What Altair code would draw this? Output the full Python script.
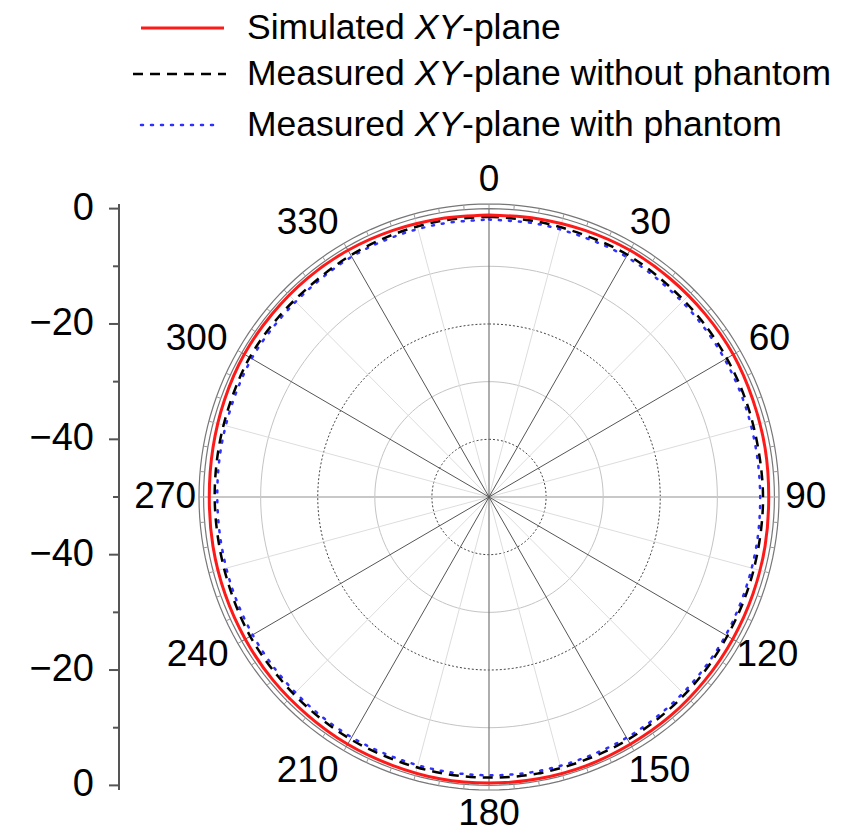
import altair as alt
import pandas as pd

# ---------------- data (dB) ----------------
ANGLES = list(range(0, 361, 10))
SIMULATED = [-1.1, -1.0, -0.8, -0.6, -0.6, -0.6, -0.6, -0.8, -0.9, -1.0,
             -0.9, -0.8, -0.7, -0.6, -0.5, -0.5, -0.4, -0.4, -0.4, -0.4,
             -0.5, -0.5, -0.6, -0.6, -0.7, -0.8, -0.9, -1.0, -0.9, -0.7,
             -0.5, -0.5, -0.5, -0.6, -0.8, -1.0, -1.1]
MEAS_WITHOUT = [-1.4, -1.5, -1.6, -1.5, -1.7, -1.8, -1.9, -2.0, -2.1, -2.0,
                -2.0, -1.9, -1.8, -1.6, -1.5, -1.4, -1.4, -1.3, -1.35, -1.4,
                -1.5, -1.5, -1.6, -1.7, -1.7, -1.9, -2.0, -1.95, -1.9, -1.8,
                -1.6, -1.7, -1.8, -1.6, -1.5, -1.4, -1.4]
MEAS_WITH = [-1.9, -1.9, -2.0, -1.9, -2.1, -2.2, -2.3, -2.4, -2.5, -2.5,
             -2.4, -2.3, -2.1, -2.0, -1.9, -1.8, -1.8, -1.7, -1.75, -1.8,
             -1.9, -1.9, -2.0, -2.1, -2.2, -2.3, -2.4, -2.4, -2.3, -2.2,
             -2.0, -2.1, -2.1, -1.9, -1.9, -1.9, -1.9]

ANGLE_TICKS = list(range(0, 360, 30))
RING_DB = [-40, -30, -20, -10, 0]
DB_MIN = -50
AXIS_VALUES = [-50, -40, -30, -20, -10, 0, 10, 20, 30, 40, 50]

LEGEND_START = ["Simulated", "Measured", "Measured"]
LEGEND_ITALIC = ["XY", "XY", "XY"]
LEGEND_END = ["-plane", "-plane without phantom", "-plane with phantom"]

# ---------------- layout ----------------
W, H = 580, 586
PAD_L, PAD_T = 191, 196
PAD_R = 852 - W - PAD_L
PAD_B = 823 - H - PAD_T
LIM = 50.8
FONT = "Liberation Sans"
PX_PER_X = W / (2 * LIM)
# horizontal nudge (px) of each angle label, as placed in the original figure
LABEL_DX = [0, 3, 6, 0, 4, 12, 0, -23, -17, -7, -18, -23]

XS = alt.Scale(domain=[-LIM, LIM], nice=False, zero=False)
YS = alt.Scale(domain=[-LIM, LIM], nice=False, zero=False)


def polar(chart, r_expr):
    return chart.transform_calculate(
        r=r_expr,
        px="datum.r * sin(datum.angle * PI / 180)",
        py="datum.r * cos(datum.angle * PI / 180)",
    )


def enc_xy(chart):
    return chart.encode(
        x=alt.X("px:Q", scale=XS, axis=None),
        y=alt.Y("py:Q", scale=YS, axis=None),
        order="angle:Q",
    )


# ---------------- grid circles ----------------
circ = pd.DataFrame([{"db": d, "angle": a} for d in RING_DB + [0.8] for a in range(0, 362, 2)])
circ_base = polar(alt.Chart(circ), f"datum.db - ({DB_MIN})")

dark_rings = enc_xy(circ_base.transform_filter("datum.db == -40 || datum.db == -20")
                    .mark_line(color="#444", strokeWidth=1, strokeDash=[2, 2])).encode(detail="db:N")
light_rings = enc_xy(circ_base.transform_filter("datum.db == -30 || datum.db == -10")
                     .mark_line(color="#c4c4c4", strokeWidth=1)).encode(detail="db:N")
outer_rings = enc_xy(circ_base.transform_filter("datum.db >= 0")
                     .mark_line(color="#777", strokeWidth=1.2)).encode(detail="db:N")

# ring ticks between 0 dB circle and border
rt = pd.DataFrame({"angle": list(range(0, 360, 5))})
ring_ticks = alt.Chart(rt).transform_calculate(
    x0="50 * sin(datum.angle * PI / 180)", y0="50 * cos(datum.angle * PI / 180)",
    x1=f"{LIM} * sin(datum.angle * PI / 180)", y1=f"{LIM} * cos(datum.angle * PI / 180)",
).mark_rule(color="#999", strokeWidth=1).encode(
    x=alt.X("x0:Q", scale=XS, axis=None), y=alt.Y("y0:Q", scale=YS, axis=None),
    x2="x1:Q", y2="y1:Q")

# ---------------- spokes ----------------
sp = pd.DataFrame({"angle": list(range(0, 360, 15))})
sp_base = alt.Chart(sp).transform_calculate(
    x0="0", y0="0",
    x1="50 * sin(datum.angle * PI / 180)", y1="50 * cos(datum.angle * PI / 180)",
)


def spokes(filt, color, width):
    return sp_base.transform_filter(filt).mark_rule(color=color, strokeWidth=width).encode(
        x=alt.X("x0:Q", scale=XS, axis=None), y=alt.Y("y0:Q", scale=YS, axis=None),
        x2="x1:Q", y2="y1:Q")


minor_spokes = spokes("datum.angle % 30 != 0", "#dddddd", 1)
major_spokes = spokes("datum.angle % 30 == 0 && datum.angle % 90 != 0", "#555", 1)
vert_spokes = spokes("datum.angle == 0 || datum.angle == 180", "#777", 1.2)
horiz_spokes = spokes("datum.angle == 90 || datum.angle == 270", "#c8c8c8", 2)

# ---------------- angle labels ----------------
al = pd.DataFrame({"angle": ANGLE_TICKS, "dx": LABEL_DX})
angle_labels = alt.Chart(al).transform_calculate(
    a="datum.angle * PI / 180",
).transform_calculate(
    px=f"55.5 * sin(datum.a) + datum.dx / {PX_PER_X}",
    py="54.9 * cos(datum.a)",
).mark_text(
    font=FONT, fontSize=37, color="black", align="center", baseline="middle"
).encode(
    x=alt.X("px:Q", scale=XS, axis=None), y=alt.Y("py:Q", scale=YS, axis=None),
    text="angle:Q")

# ---------------- left radial axis (mirrored dB scale) ----------------
AX_X = -80
ax_df = pd.DataFrame({"v": AXIS_VALUES})
ax_base = alt.Chart(ax_df).transform_calculate(
    major="abs(datum.v) % 20 == 10",
    label="format(abs(datum.v) - 50, 'd')",
)
axis_line = alt.Chart(pd.DataFrame({"lo": [-LIM], "hi": [LIM]})).mark_rule(
    color="#555", strokeWidth=2).encode(
    x=alt.value(AX_X), y=alt.Y("lo:Q", scale=YS, axis=None), y2="hi:Q")
major_ticks = ax_base.transform_filter("datum.major").mark_rule(
    color="#555", strokeWidth=2).encode(
    x=alt.value(AX_X - 10), x2=alt.value(AX_X), y=alt.Y("v:Q", scale=YS, axis=None))
minor_ticks = ax_base.transform_filter("!datum.major").mark_rule(
    color="#555", strokeWidth=2).encode(
    x=alt.value(AX_X - 6), x2=alt.value(AX_X), y=alt.Y("v:Q", scale=YS, axis=None))
axis_labels = ax_base.transform_filter("datum.major").mark_text(
    font=FONT, fontSize=38, color="black", align="right", baseline="middle").encode(
    x=alt.value(AX_X - 25), y=alt.Y("v:Q", scale=YS, axis=None), text="label:N")

# ---------------- data lines ----------------
def series(values, **style):
    df = pd.DataFrame({"angle": ANGLES, "db": values})
    return enc_xy(polar(alt.Chart(df), f"datum.db - ({DB_MIN})").mark_line(
        interpolate="catmull-rom", **style))


sim_line = series(SIMULATED, color="#ff1a1a", strokeWidth=3)
wo_line = series(MEAS_WITHOUT, color="black", strokeWidth=2.5, strokeDash=[10, 7])
wi_line = series(MEAS_WITH, color="#2f2fff", strokeWidth=2.5, strokeDash=[2, 8], strokeCap="round")

# ---------------- legend ----------------
one = pd.DataFrame({"a": [0]})
ROW_Y = [-176, -130, -79]
LINE_X = [(-58, 25), (-66, 27), (-58, 16)]
LINE_STYLE = [dict(color="#ff1a1a", strokeWidth=3),
              dict(color="black", strokeWidth=2.5, strokeDash=[10, 7]),
              dict(color="#2f2fff", strokeWidth=2.5, strokeDash=[2, 8], strokeCap="round")]
FS = 35.5
X_TEXT = 48
X_ITAL = X_TEXT + 4.724 * FS
X_END = X_ITAL + 1.334 * FS

legend_layers = []
for i in range(3):
    legend_layers.append(alt.Chart(one).mark_rule(**LINE_STYLE[i]).encode(
        x=alt.value(LINE_X[i][0]), x2=alt.value(LINE_X[i][1]), y=alt.value(ROW_Y[i])))
    for txt, xpos, style in [(LEGEND_START[i], X_TEXT, "normal"),
                             (LEGEND_ITALIC[i], X_ITAL, "italic"),
                             (LEGEND_END[i], X_END, "normal")]:
        legend_layers.append(alt.Chart(one).mark_text(
            font=FONT, fontSize=FS, fontStyle=style, color="black",
            align="left", baseline="middle", text=txt
        ).encode(x=alt.value(xpos), y=alt.value(ROW_Y[i])))

chart = alt.layer(
    outer_rings, light_rings, dark_rings, minor_spokes, horiz_spokes, vert_spokes,
    major_spokes, ring_ticks, angle_labels, axis_line, major_ticks, minor_ticks, axis_labels,
    wi_line, wo_line, sim_line, *legend_layers
).properties(
    width=W, height=H,
    autosize=alt.AutoSizeParams(type="none"),
    padding={"left": PAD_L, "top": PAD_T, "right": PAD_R, "bottom": PAD_B},
    background="white",
).configure_view(stroke=None)

chart.save("out.html", embed_options={"renderer": "svg", "actions": False})
